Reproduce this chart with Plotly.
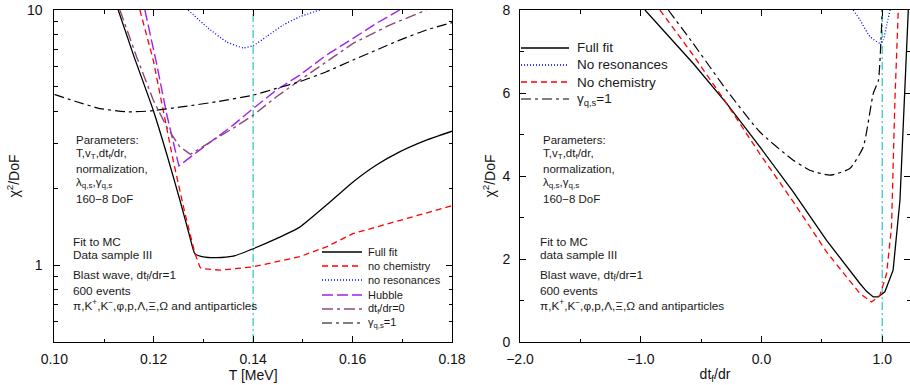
import plotly.graph_objects as go
from plotly.subplots import make_subplots

# ---------------- data: left panel (chi2/DoF vs T) ----------------
T_full = [0.11286, 0.11588, 0.11990, 0.12258, 0.12526, 0.12727, 0.12827, 0.12995, 0.13260,
          0.13598, 0.14000, 0.14469, 0.14938, 0.15474, 0.16010, 0.16480, 0.16946, 0.17484, 0.18000]
chi_full = [10.0, 6.7, 4.05, 2.74, 1.80, 1.29, 1.11, 1.078, 1.07,
            1.085, 1.16, 1.27, 1.41, 1.72, 2.12, 2.47, 2.78, 3.09, 3.35]

T_nochem = [0.11722, 0.11990, 0.12190, 0.12390, 0.12630, 0.12830, 0.12928, 0.12960, 0.13330,
            0.14000, 0.14938, 0.15474, 0.16010, 0.16946, 0.18000]
chi_nochem = [10.0, 6.37, 4.05, 2.58, 1.59, 1.11, 0.985, 0.97, 0.956,
              0.985, 1.08, 1.18, 1.33, 1.50, 1.71]

T_nores = [0.12693, 0.13062, 0.13464, 0.13799, 0.14000, 0.14268, 0.14603, 0.14938, 0.15340]
chi_nores = [10.0, 8.60, 7.51, 7.11, 7.25, 7.86, 8.73, 9.41, 10.0]

T_hubble = [0.11822, 0.12057, 0.12258, 0.12392, 0.12506, 0.12928, 0.13598, 0.14000,
            0.14469, 0.14938, 0.15474, 0.16010, 0.16480, 0.16946]
chi_hubble = [10.0, 6.18, 3.93, 3.0, 2.45, 2.83, 3.54, 4.11,
              4.86, 5.56, 6.66, 7.74, 8.87, 10.0]

T_dtdr0 = [0.11320, 0.11655, 0.11990, 0.12258, 0.12526, 0.12740, 0.13196, 0.13598, 0.14000,
           0.14469, 0.14938, 0.15474, 0.16010, 0.16747, 0.17484]
chi_dtdr0 = [10.0, 6.56, 4.44, 3.49, 2.91, 2.72, 3.09, 3.44, 3.87,
             4.57, 5.31, 6.27, 7.40, 8.73, 10.0]

T_gamma1 = [0.10000, 0.10449, 0.10918, 0.11454, 0.11923, 0.12593, 0.13263, 0.14000,
            0.14469, 0.14938, 0.15474, 0.16010, 0.16480, 0.16946, 0.17484, 0.18000]
chi_gamma1 = [4.67, 4.37, 4.11, 3.99, 4.02, 4.18, 4.37, 4.64,
              4.93, 5.24, 5.73, 6.37, 6.97, 7.62, 8.35, 8.92]

T_ref = 0.14

# ---------------- data: right panel (chi2/DoF vs dt_f/dr) ----------------
d_full = [-0.965, -0.565, -0.289, -0.013, 0.263, 0.539, 0.815, 0.870, 0.926, 0.967,
          1.022, 1.090, 1.147, 1.188, 1.216]
c_full = [8.0, 6.71, 5.75, 4.70, 3.62, 2.45, 1.41, 1.22, 1.085, 1.085,
          1.21, 1.73, 3.42, 5.99, 8.0]

d_nochem = [-0.841, -0.565, -0.289, -0.013, 0.263, 0.539, 0.815, 0.912, 0.981,
            1.036, 1.077, 1.105, 1.133]
c_nochem = [8.0, 6.91, 5.75, 4.53, 3.38, 2.17, 1.17, 0.965, 1.125,
            1.65, 2.77, 5.83, 8.0]

d_nores = [0.760, 0.816, 0.898, 0.980, 1.009, 1.037, 1.065]
c_nores = [8.0, 7.76, 7.36, 7.20, 7.28, 7.64, 8.0]

d_gamma1 = [-0.772, -0.565, -0.289, -0.013, 0.263, 0.400, 0.567, 0.732, 0.843,
            0.926, 0.968, 0.990, 1.000]
c_gamma1 = [8.0, 7.19, 6.07, 5.06, 4.38, 4.14, 4.02, 4.18, 4.70,
            5.99, 6.30, 7.30, 8.0]

dtdr_ref = 1.0

# ticks
left_xticks = [0.10, 0.12, 0.14, 0.16, 0.18]
left_xticktext = ["0.10", "0.12", "0.14", "0.16", "0.18"]
left_yticks = [1, 10]
left_yticktext = ["1", "10"]
left_yminor = [0.5, 0.6, 0.7, 0.8, 0.9, 2, 3, 4, 5, 6, 7, 8, 9]
right_xticks = [-2.0, -1.0, 0.0, 1.0]
right_xticktext = ["\u22122.0", "\u22121.0", "0.0", "1.0"]
right_yticks = [0, 2, 4, 6, 8]

# labels
left_names = ["Full fit", "no chemistry", "no resonances", "Hubble",
              "dt<sub>f</sub>/dr=0", "\u03b3<sub>q,s</sub>=1"]
right_names = ["Full fit", "No resonances", "No chemistry", "\u03b3<sub>q,s</sub>=1"]

params_lines = ["Parameters:", "T,v<sub>T</sub>,dt<sub>f</sub>/dr,", "normalization,",
                "\u03bb<sub>q,s</sub>,\u03b3<sub>q,s</sub>", "160\u22128 DoF"]
info_left = ["Fit to MC", "Data sample III", "Blast wave, dt<sub>f</sub>/dr=1", "600 events",
             "\u03c0,K<sup>+</sup>,K<sup>\u2212</sup>,\u03c6,p,\u039b,\u039e,\u03a9 and antiparticles"]
info_right = ["Fit to MC", "data sample III", "Blast wave, dt<sub>f</sub>/dr=1", "600 events",
              "\u03c0,K<sup>+</sup>,K<sup>\u2212</sup>,\u03c6,p,\u039b,\u039e,\u03a9 and antiparticles"]

# ---------------- styles ----------------
FONT = "Liberation Sans, Arial, Helvetica, sans-serif"
W, H = 910, 385
MT, MB = 10, 43
PH = H - MT - MB

st_full = dict(color="black", width=1.3, dash="solid")
st_nochem = dict(color="#ff0000", width=1.3, dash="6px,4px")
st_nores = dict(color="#0000ff", width=1.3, dash="1px,2px")
st_hubble = dict(color="#a020f0", width=1.4, dash="11px,4px")
st_dtdr0 = dict(color="#8b4a78", width=1.4, dash="11px,4px,3px,4px")
st_gamma = dict(color="black", width=1.2, dash="10px,4px,3px,4px")
st_ref = dict(color="#2ec4c4", width=1.2, dash="8px,3px,2px,3px")

left_styles = [st_full, st_nochem, st_nores, st_hubble, st_dtdr0, st_gamma]
right_styles = [st_full, st_nores, st_nochem, st_gamma]
left_shapes = ["spline", "linear", "spline", "linear", "linear", "spline"]
right_shapes = ["linear", "spline", "linear", "spline"]


def px(xp):
    return xp / W


def py(yp):
    return (H - MB - yp) / PH


fig = make_subplots(rows=1, cols=2, horizontal_spacing=0.0)

left_data = [(T_full, chi_full), (T_nochem, chi_nochem), (T_nores, chi_nores),
             (T_hubble, chi_hubble), (T_dtdr0, chi_dtdr0), (T_gamma1, chi_gamma1)]
fig.add_trace(go.Scatter(x=[T_ref, T_ref], y=[0.5, 10], mode="lines", line=st_ref,
                         showlegend=False, hoverinfo="skip"), row=1, col=1)
for (xs, ys), name, st, sh in zip(left_data, left_names, left_styles, left_shapes):
    fig.add_trace(go.Scatter(x=xs, y=ys, mode="lines", name=name,
                             line=dict(st, shape=sh, smoothing=0.5) if sh == "spline" else st,
                             showlegend=False), row=1, col=1)

right_data = [(d_full, c_full), (d_nores, c_nores), (d_nochem, c_nochem), (d_gamma1, c_gamma1)]
fig.add_trace(go.Scatter(x=[dtdr_ref, dtdr_ref], y=[0, 8], mode="lines", line=st_ref,
                         showlegend=False, hoverinfo="skip"), row=1, col=2)
for (xs, ys), name, st, sh in zip(right_data, right_names, right_styles, right_shapes):
    fig.add_trace(go.Scatter(x=xs, y=ys, mode="lines", name=name,
                             line=dict(st, shape=sh, smoothing=0.5) if sh == "spline" else st,
                             showlegend=False), row=1, col=2)

axis_common = dict(showline=True, linecolor="black", linewidth=1, mirror="allticks",
                   ticks="inside", ticklen=6, tickcolor="black", tickwidth=1,
                   showgrid=False, zeroline=False, automargin=False,
                   tickfont=dict(family=FONT, size=14, color="#111"))

fig.update_xaxes(**axis_common, domain=[54.3 / W, 452 / W], range=[0.10, 0.18],
                 tickvals=left_xticks, ticktext=left_xticktext,
                 minor=dict(ticks="inside", ticklen=3.5, dtick=0.01, tick0=0.10,
                            tickcolor="black", showgrid=False),
                 title=dict(text="T [MeV]", font=dict(family=FONT, size=14, color="#111"),
                            standoff=3),
                 ticklabelstandoff=4, row=1, col=1)
fig.update_yaxes(**axis_common, type="log", range=[-0.30103, 1.0],
                 tickvals=left_yticks, ticktext=left_yticktext,
                 minor=dict(ticks="inside", ticklen=3.5, tickvals=left_yminor,
                            tickcolor="black", showgrid=False),
                 title=dict(text="\u03c7<sup>2</sup>/DoF", font=dict(family=FONT, size=14, color="#111"),
                            standoff=4),
                 ticklabelstandoff=8, row=1, col=1)

fig.update_xaxes(**axis_common, domain=[520 / W, 1.0], range=[-2.0, 1.23],
                 tickvals=right_xticks, ticktext=right_xticktext,
                 minor=dict(ticks="inside", ticklen=3.5, dtick=0.5, tick0=-2.0,
                            tickcolor="black", showgrid=False),
                 title=dict(text="dt<sub>f</sub>/dr", font=dict(family=FONT, size=14, color="#111"),
                            standoff=3),
                 ticklabelstandoff=4, row=1, col=2)
fig.update_yaxes(**axis_common, range=[0, 8], tickvals=right_yticks,
                 minor=dict(ticks="inside", ticklen=3.5, dtick=1, tick0=0,
                            tickcolor="black", showgrid=False),
                 title=dict(text="\u03c7<sup>2</sup>/DoF", font=dict(family=FONT, size=14, color="#111"),
                            standoff=3),
                 ticklabelstandoff=6, row=1, col=2)

annotations = []
shapes = []


def add_text(x, y, text, size):
    annotations.append(dict(x=px(x), y=py(y), xref="paper", yref="paper", text=text,
                            showarrow=False, xanchor="left", yanchor="middle",
                            font=dict(family=FONT, size=size, color="#1a1a1a")))


left_rows = [252, 266, 280, 295, 309, 323]
for yy, name, st in zip(left_rows, left_names, left_styles):
    shapes.append(dict(type="line", xref="paper", yref="paper", x0=px(322), x1=px(362),
                       y0=py(yy), y1=py(yy), line=st))
    add_text(366, yy, name, 11)

right_rows = [48, 65, 82, 99]
for yy, name, st in zip(right_rows, right_names, right_styles):
    shapes.append(dict(type="line", xref="paper", yref="paper", x0=px(521), x1=px(569),
                       y0=py(yy), y1=py(yy), line=st))
    add_text(575, yy, name, 13.5)

param_rows = [140, 154, 169, 183, 199]
for yy, t in zip(param_rows, params_lines):
    add_text(73.5, yy, t, 11.5)
    add_text(540.5, yy, t, 11.5)

info_rows = [242, 255, 275, 291, 305]
for yy, t in zip(info_rows, info_left):
    add_text(70.5, yy, t, 11.8)
for yy, t in zip(info_rows, info_right):
    add_text(538, yy, t, 11.8)

fig.update_layout(width=W, height=H, margin=dict(l=0, r=0, t=MT, b=MB),
                  plot_bgcolor="white", paper_bgcolor="white", showlegend=False,
                  annotations=annotations, shapes=shapes,
                  font=dict(family=FONT, size=14, color="#111"))

# remove the default page margin so the figure fills the 910x385 window exactly
fig.write_html("out.html", config={"displayModeBar": False},
               post_script="document.body.style.margin='0';document.body.style.overflow='hidden';")
